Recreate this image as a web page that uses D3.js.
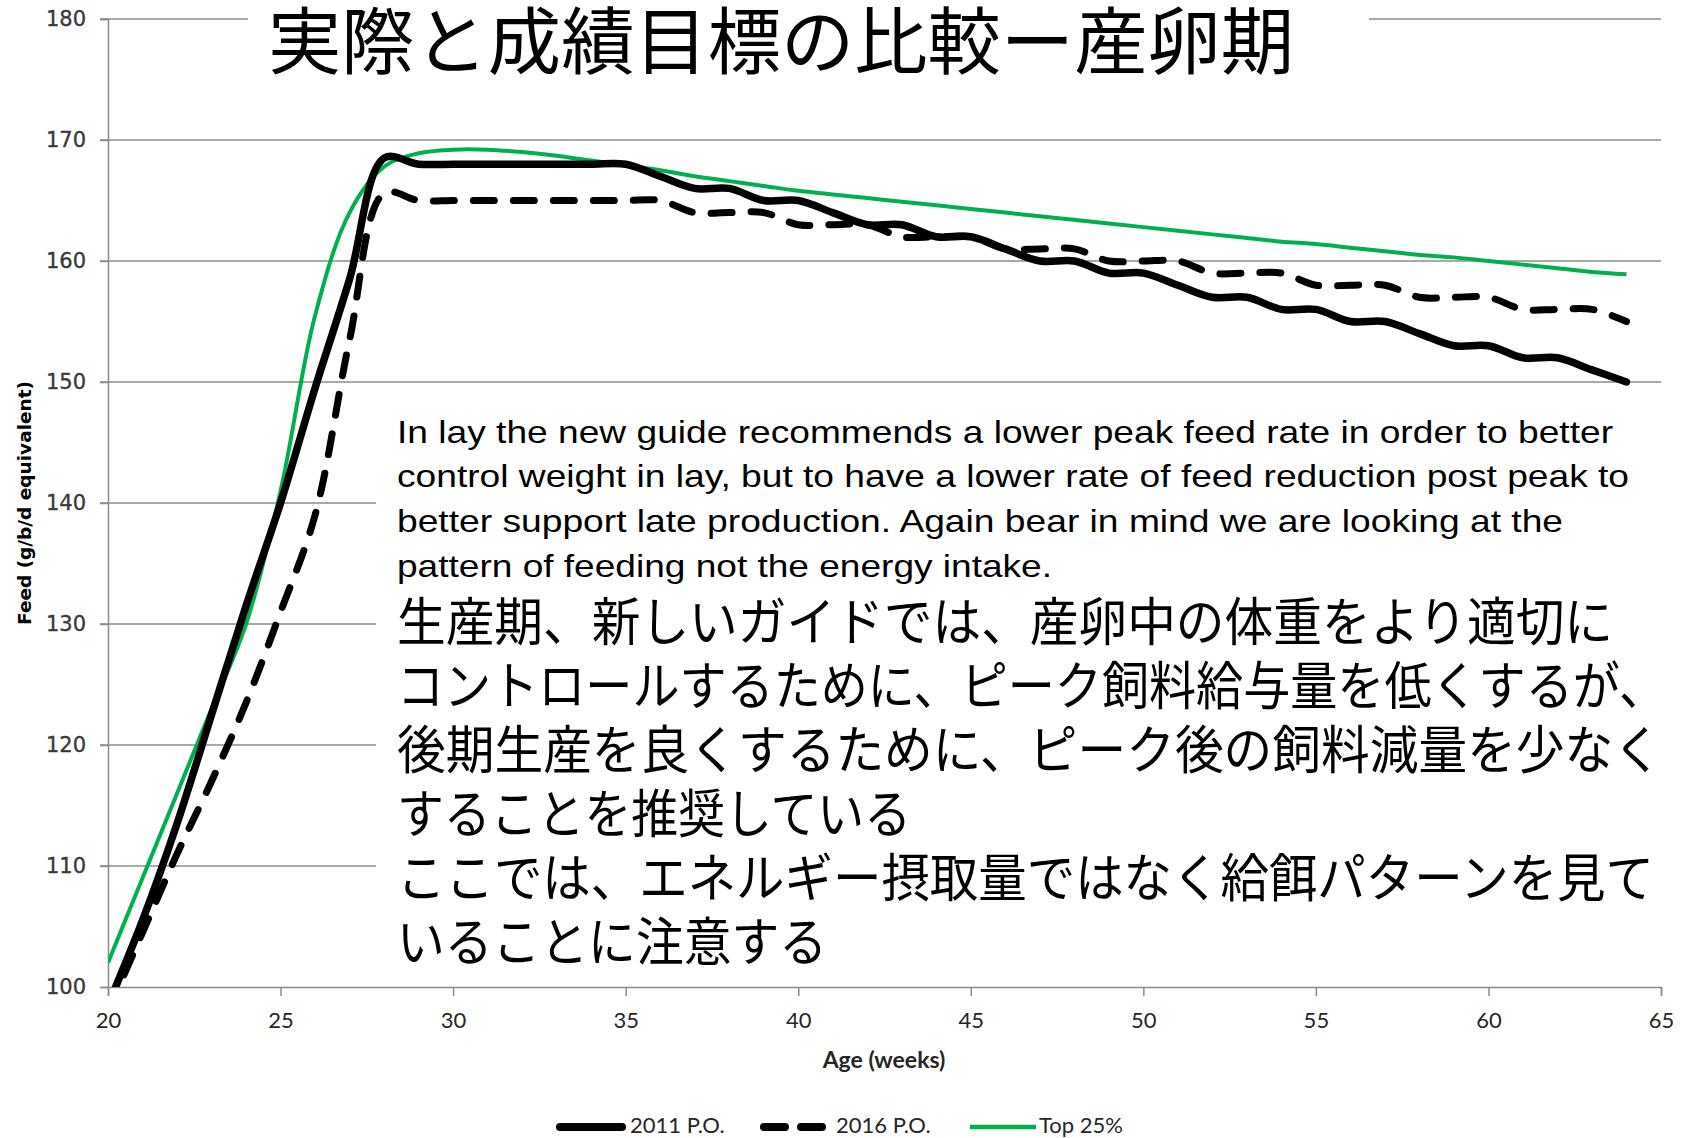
<!DOCTYPE html>
<html>
<head>
<meta charset="utf-8">
<script src="https://cdn.jsdelivr.net/npm/d3@7"></script>
<style>
  html, body { margin: 0; padding: 0; background: #fff; }
  svg { display: block; }
</style>
</head>
<body>
<svg id="chart" width="1684" height="1138"></svg>
<script>
// ---- data ----
const weeks = [20,21,22,23,24,25,26,27,28,29,30,31,32,33,34,35,36,37,38,39,40,41,42,43,44,45,46,47,48,49,50,51,52,53,54,55,56,57,58,59,60,61,62,63,64];
const po2011 = [98.5,105.5,113.5,122.5,131.5,140,149.5,158.5,168.5,168,168,168,168,168,168,168,167,166,166,165,165,164,163,163,162,162,161,160,160,159,159,158,157,157,156,156,155,155,154,153,153,152,152,151,150];
const po2016 = [98,104.5,111,117,123.5,131,139,153.5,165.6,165,165,165,165,165,165,165,165,164,164,164,163,163,163,162,162,162,161,161,161,160,160,160,159,159,159,158,158,158,157,157,157,156,156,156,155];
const top25 = [102,109,116,123,130,141,155.5,164,167.8,168.9,169.2,169.2,169,168.7,168.3,167.9,167.5,167,166.6,166.2,165.8,165.5,165.2,164.9,164.6,164.3,164,163.7,163.4,163.1,162.8,162.5,162.2,161.9,161.6,161.4,161.1,160.8,160.5,160.3,160,159.7,159.4,159.1,158.9];
const seriesNames = ["2011 P.O.", "2016 P.O.", "Top 25%"];
const xTicks = [20,25,30,35,40,45,50,55,60,65];
const yTicks = [100,110,120,130,140,150,160,170,180];
const titleText = "実際と成績目標の比較ー産卵期";
const xTitle = "Age (weeks)";
const yTitle = "Feed (g/b/d equivalent)";
const enLines = [
  "In lay the new guide recommends a lower peak feed rate in order to better",
  "control weight in lay, but to have a lower rate of feed reduction post peak to",
  "better support late production. Again bear in mind we are looking at the",
  "pattern of feeding not the energy intake."
];
const jpLines = [
  "生産期、新しいガイドでは、産卵中の体重をより適切に",
  "コントロールするために、ピーク飼料給与量を低くするが、",
  "後期生産を良くするために、ピーク後の飼料減量を少なく",
  "することを推奨している",
  "ここでは、エネルギー摂取量ではなく給餌パターンを見て",
  "いることに注意する"
];

// ---- layout ----
const svg = d3.select("#chart");
const x = d3.scaleLinear().domain([20, 65]).range([108, 1661]);
const y = d3.scaleLinear().domain([100, 180]).range([987, 19]);
const gridCol = "#8c8c8c";
const green = "#00B050";

// gridlines
svg.append("g").selectAll("line").data(yTicks.filter(v => v !== 100)).join("line")
  .attr("x1", 100).attr("x2", x(65))
  .attr("y1", d => y(d)).attr("y2", d => y(d))
  .attr("stroke", gridCol).attr("stroke-width", 1.5);

// y axis
const yAxis = svg.append("g").attr("transform", `translate(${x(20)},0)`)
  .call(d3.axisLeft(y).tickValues(yTicks).tickSize(8).tickPadding(10).tickFormat(d3.format("d")));
yAxis.select(".domain").attr("stroke", gridCol).attr("stroke-width", 1.5);
yAxis.selectAll(".tick line").attr("stroke", gridCol).attr("stroke-width", 1.5);
yAxis.selectAll(".tick text").attr("font-family", "DejaVu Sans").attr("font-size", 21)
  .attr("fill", "#3a3a3a").attr("dx", -4).attr("stroke", "#3a3a3a").attr("stroke-width", 0.35);

// x axis
const xAxis = svg.append("g").attr("transform", `translate(0,${y(100)})`)
  .call(d3.axisBottom(x).tickValues(xTicks).tickSize(9).tickPadding(16).tickFormat(d3.format("d")));
xAxis.select(".domain").attr("stroke", gridCol).attr("stroke-width", 1.5);
xAxis.selectAll(".tick line").attr("stroke", gridCol).attr("stroke-width", 1.5);
xAxis.selectAll(".tick text").attr("font-family", "Lato").attr("font-size", 22).attr("fill", "#262626");

// clip
svg.append("clipPath").attr("id", "plotclip").append("rect")
  .attr("x", x(20)).attr("y", y(180)).attr("width", x(65) - x(20)).attr("height", y(100) - y(180));

const line = d3.line().x((d, i) => x(weeks[i])).y(d => y(d)).curve(d3.curveCatmullRom.alpha(0.5));
const plot = svg.append("g").attr("clip-path", "url(#plotclip)");

plot.append("path").datum(top25).attr("d", line)
  .attr("fill", "none").attr("stroke", green).attr("stroke-width", 4).attr("stroke-linejoin", "round");
plot.append("path").datum(po2016).attr("d", line)
  .attr("fill", "none").attr("stroke", "#000").attr("stroke-width", 7)
  .attr("stroke-dasharray", "21,19").attr("stroke-linecap", "round").attr("stroke-linejoin", "round");
plot.append("path").datum(po2011).attr("d", line)
  .attr("fill", "none").attr("stroke", "#000").attr("stroke-width", 7.5)
  .attr("stroke-linecap", "round").attr("stroke-linejoin", "round");

// axis titles
svg.append("text").attr("x", 884).attr("y", 1068).attr("text-anchor", "middle")
  .attr("font-family", "Lato").attr("font-weight", "bold").attr("font-size", 23).attr("fill", "#262626")
  .text(xTitle);
svg.append("text").attr("transform", "translate(31,503) rotate(-90)").attr("text-anchor", "middle")
  .attr("font-family", "DejaVu Sans").attr("font-weight", "bold").attr("font-size", 18.5).attr("fill", "#000")
  .text(yTitle);

// legend
const lg = svg.append("g");
const legY = 1127;
const legTextY = 1133;
lg.append("line").attr("x1", 560).attr("x2", 622).attr("y1", legY).attr("y2", legY)
  .attr("stroke", "#000").attr("stroke-width", 8).attr("stroke-linecap", "round");
lg.append("text").attr("x", 630).attr("y", legTextY).attr("font-family", "Lato").attr("font-size", 22).attr("fill", "#262626").text(seriesNames[0]);
lg.append("line").attr("x1", 764).attr("x2", 822).attr("y1", legY).attr("y2", legY)
  .attr("stroke", "#000").attr("stroke-width", 8).attr("stroke-linecap", "round").attr("stroke-dasharray", "21,16");
lg.append("text").attr("x", 836).attr("y", legTextY).attr("font-family", "Lato").attr("font-size", 22).attr("fill", "#262626").text(seriesNames[1]);
lg.append("line").attr("x1", 970).attr("x2", 1036).attr("y1", legY).attr("y2", legY)
  .attr("stroke", green).attr("stroke-width", 4.5);
lg.append("text").attr("x", 1039).attr("y", legTextY).attr("font-family", "Lato").attr("font-size", 22).attr("fill", "#262626").text(seriesNames[2]);

// title box
svg.append("rect").attr("x", 248).attr("y", 0).attr("width", 1369 - 248).attr("height", 88).attr("fill", "#fff");
svg.append("text").attr("x", 268).attr("y", 68).attr("font-family", "Noto Sans CJK JP").attr("font-size", 73)
  .attr("fill", "#000").attr("textLength", 1026).attr("lengthAdjust", "spacingAndGlyphs").text(titleText);

// text box
svg.append("rect").attr("x", 376).attr("y", 393).attr("width", 1684 - 376).attr("height", 585).attr("fill", "#fff");
const enBase = [443, 487, 532, 577];
const enWidth = [1216, 1232, 1166, 655];
svg.append("g").selectAll("text").data(enLines).join("text")
  .attr("x", 397).attr("y", (d, i) => enBase[i])
  .attr("font-family", "Liberation Sans").attr("font-size", 32).attr("fill", "#000")
  .attr("textLength", (d, i) => enWidth[i]).attr("lengthAdjust", "spacingAndGlyphs")
  .text(d => d);
const jpBase = [641, 705, 769, 833, 897, 961];
const jpWidth = [1216, 1269, 1265, 514, 1257, 430];
svg.append("g").selectAll("text").data(jpLines).join("text")
  .attr("x", 397).attr("y", (d, i) => jpBase[i])
  .attr("font-family", "Noto Sans CJK JP").attr("font-size", 52).attr("fill", "#000")
  .attr("textLength", (d, i) => jpWidth[i]).attr("lengthAdjust", "spacingAndGlyphs")
  .text(d => d);
</script>
</body>
</html>
